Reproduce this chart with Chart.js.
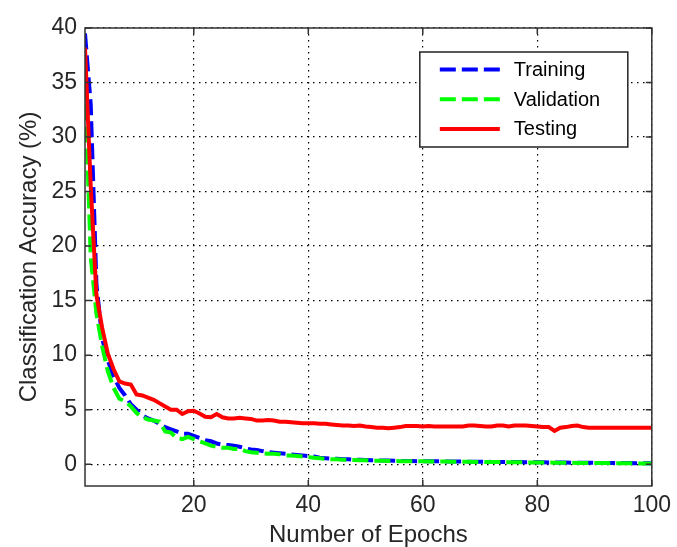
<!DOCTYPE html>
<html>
<head>
<meta charset="utf-8">
<title>Classification Accuracy</title>
<script src="https://cdn.jsdelivr.net/npm/chart.js@4"></script>
<style>
    html, body { margin: 0; padding: 0; background: #fff; }
    #grafico { display: block; }
</style>
</head>
<body>
<canvas id="grafico" width="677" height="547"></canvas>
<script>
/*--------------------DATA--------------------*/
let epochs = [];
for (let e = 1; e <= 100; e++) epochs.push(e);

let xTicks = [20, 40, 60, 80, 100];
let yTicks = [0, 5, 10, 15, 20, 25, 30, 35, 40];

let training = [
    39.5, 33.0, 16.5, 11.5, 9.5, 8.0, 7.0, 6.3, 5.5, 5.0,
    4.5, 4.2, 4.0, 3.7, 3.4, 3.2, 3.0, 2.8, 2.8, 2.6,
    2.4, 2.2, 2.1, 1.9, 1.8, 1.75, 1.7, 1.6, 1.45, 1.35,
    1.3, 1.2, 1.1, 1.05, 1.0, 0.95, 0.9, 0.85, 0.8, 0.75,
    0.7, 0.6, 0.55, 0.5, 0.5, 0.45, 0.45, 0.4, 0.4, 0.38,
    0.36, 0.35, 0.34, 0.33, 0.32, 0.3, 0.3, 0.29, 0.28, 0.28,
    0.27, 0.26, 0.26, 0.25, 0.25, 0.24, 0.24, 0.23, 0.23, 0.22,
    0.22, 0.21, 0.21, 0.2, 0.2, 0.19, 0.19, 0.18, 0.18, 0.17,
    0.17, 0.16, 0.16, 0.15, 0.15, 0.14, 0.14, 0.13, 0.13, 0.12,
    0.12, 0.11, 0.11, 0.1, 0.1, 0.1, 0.09, 0.09, 0.08, 0.08
];

let validation = [
    35.0, 19.0, 13.8, 10.8, 8.5, 7.0, 6.0, 5.8, 5.3, 4.7,
    4.3, 4.1, 4.0, 3.9, 3.0, 2.9, 2.4, 2.3, 2.5, 2.3,
    2.1, 1.9, 1.7, 1.6, 1.5, 1.5, 1.4, 1.4, 1.2, 1.1,
    1.05, 1.0, 0.95, 0.95, 0.9, 0.8, 0.8, 0.75, 0.7, 0.65,
    0.6, 0.55, 0.5, 0.45, 0.45, 0.4, 0.4, 0.38, 0.36, 0.35,
    0.33, 0.32, 0.31, 0.3, 0.29, 0.28, 0.28, 0.27, 0.26, 0.26,
    0.25, 0.25, 0.24, 0.24, 0.23, 0.23, 0.22, 0.22, 0.21, 0.21,
    0.2, 0.2, 0.19, 0.19, 0.18, 0.18, 0.17, 0.17, 0.16, 0.16,
    0.15, 0.15, 0.14, 0.14, 0.13, 0.13, 0.12, 0.12, 0.11, 0.11,
    0.1, 0.1, 0.09, 0.09, 0.08, 0.08, 0.07, 0.07, 0.06, 0.06
];

let testing = [
    38.2, 25.5, 15.5, 12.5, 10.1, 8.7, 7.6, 7.4, 7.3, 6.4,
    6.3, 6.1, 5.9, 5.6, 5.3, 5.0, 5.0, 4.6, 4.85, 4.9,
    4.65, 4.35, 4.3, 4.6, 4.3, 4.2, 4.2, 4.25, 4.2, 4.15,
    4.0, 4.0, 4.05, 4.0, 3.9, 3.9, 3.85, 3.8, 3.75, 3.75,
    3.75, 3.7, 3.7, 3.65, 3.6, 3.55, 3.55, 3.5, 3.55, 3.45,
    3.4, 3.35, 3.35, 3.3, 3.35, 3.4, 3.5, 3.5, 3.5, 3.45,
    3.5, 3.45, 3.45, 3.45, 3.45, 3.45, 3.45, 3.55, 3.55, 3.5,
    3.45, 3.45, 3.55, 3.55, 3.45, 3.55, 3.55, 3.55, 3.5, 3.45,
    3.4, 3.4, 3.05, 3.35, 3.4, 3.5, 3.55, 3.4, 3.35, 3.35,
    3.35, 3.35, 3.35, 3.35, 3.35, 3.35, 3.35, 3.35, 3.35, 3.35
];

let fontFamily = "'Liberation Sans', Arial, sans-serif";

/*--------------------PLUGINS--------------------*/
// moldura do eixo + ticks para dentro, estilo matlab
let framePlugin = {
    id: 'frame',
    afterDatasetsDraw(chart) {
        let ctx = chart.ctx;
        let a = chart.chartArea;
        let xs = chart.scales.x;
        let ys = chart.scales.y;
        let len = 6;
        ctx.save();
        ctx.strokeStyle = '#333';
        ctx.lineWidth = 1.5;
        ctx.setLineDash([]);
        ctx.strokeRect(a.left, a.top, a.right - a.left, a.bottom - a.top);
        ctx.beginPath();
        xTicks.forEach(v => {
            let px = xs.getPixelForValue(v);
            ctx.moveTo(px, a.bottom); ctx.lineTo(px, a.bottom - len);
            ctx.moveTo(px, a.top); ctx.lineTo(px, a.top + len);
        });
        yTicks.forEach(v => {
            let py = ys.getPixelForValue(v);
            ctx.moveTo(a.left, py); ctx.lineTo(a.left + len, py);
            ctx.moveTo(a.right, py); ctx.lineTo(a.right - len, py);
        });
        ctx.stroke();
        ctx.restore();
    }
};

// legenda dentro do grafico
let legendPlugin = {
    id: 'boxLegend',
    afterDraw(chart) {
        let ctx = chart.ctx;
        let a = chart.chartArea;
        let w = 208, h = 95;
        let x0 = a.right - 24 - w;
        let y0 = a.top + 24;
        ctx.save();
        ctx.fillStyle = '#fff';
        ctx.fillRect(x0, y0, w, h);
        ctx.strokeStyle = '#222';
        ctx.lineWidth = 1.5;
        ctx.strokeRect(x0, y0, w, h);
        ctx.font = '20px ' + fontFamily;
        ctx.textBaseline = 'middle';
        ctx.textAlign = 'left';
        chart.data.datasets.forEach((ds, i) => {
            let y = y0 + 17.5 + i * 29.7;
            ctx.strokeStyle = ds.borderColor;
            ctx.lineWidth = ds.borderWidth;
            ctx.setLineDash(ds.borderDash || []);
            ctx.beginPath();
            ctx.moveTo(x0 + 20, y);
            ctx.lineTo(x0 + 80, y);
            ctx.stroke();
            ctx.setLineDash([]);
            ctx.fillStyle = '#000';
            ctx.fillText(ds.label, x0 + 94, y + 1);
        });
        ctx.restore();
    }
};

/*--------------------CHART--------------------*/
let canvas = document.getElementById('grafico');
let chart = new Chart(canvas, {
    type: 'line',
    data: {
        labels: epochs,
        datasets: [
            {
                label: 'Training',
                data: training,
                borderColor: 'rgb(0,0,255)',
                borderWidth: 4,
                borderDash: [16, 6],
                order: 3
            },
            {
                label: 'Validation',
                data: validation,
                borderColor: 'rgb(0,255,0)',
                borderWidth: 4,
                borderDash: [16, 6],
                order: 2
            },
            {
                label: 'Testing',
                data: testing,
                borderColor: 'rgb(255,0,0)',
                borderWidth: 4,
                order: 1
            }
        ]
    },
    options: {
        responsive: false,
        animation: false,
        devicePixelRatio: 1,
        layout: { padding: { top: 28, right: 22, left: 0, bottom: 0 } },
        elements: {
            point: { radius: 0 },
            line: { tension: 0, fill: false, borderCapStyle: 'butt' }
        },
        plugins: {
            legend: { display: false },
            tooltip: { enabled: false }
        },
        scales: {
            x: {
                type: 'linear',
                min: 1,
                max: 100,
                afterBuildTicks: (s) => { s.ticks = xTicks.map(v => ({ value: v })); },
                afterFit: (s) => { s.height = 61; },
                grid: { color: '#000', lineWidth: 1.2, drawTicks: false },
                border: { display: false, dash: [1.5, 4.5] },
                ticks: {
                    padding: 6,
                    color: '#262626',
                    font: { family: fontFamily, size: 23 },
                    maxRotation: 0
                },
                title: {
                    display: true,
                    text: 'Number of Epochs',
                    color: '#262626',
                    font: { family: fontFamily, size: 24, lineHeight: 1 },
                    padding: 0
                }
            },
            y: {
                min: -2,
                max: 40,
                afterBuildTicks: (s) => { s.ticks = yTicks.map(v => ({ value: v })); },
                afterFit: (s) => { s.width = 85; },
                grid: { color: '#000', lineWidth: 1.2, drawTicks: false },
                border: { display: false, dash: [1.5, 4.5] },
                ticks: {
                    padding: 8,
                    color: '#262626',
                    font: { family: fontFamily, size: 23 }
                },
                title: {
                    display: true,
                    text: 'Classification Accuracy (%)',
                    color: '#262626',
                    font: { family: fontFamily, size: 24, lineHeight: 1.2 },
                    padding: { top: 15, bottom: 0 }
                }
            }
        }
    },
    plugins: [framePlugin, legendPlugin]
});
</script>
</body>
</html>
